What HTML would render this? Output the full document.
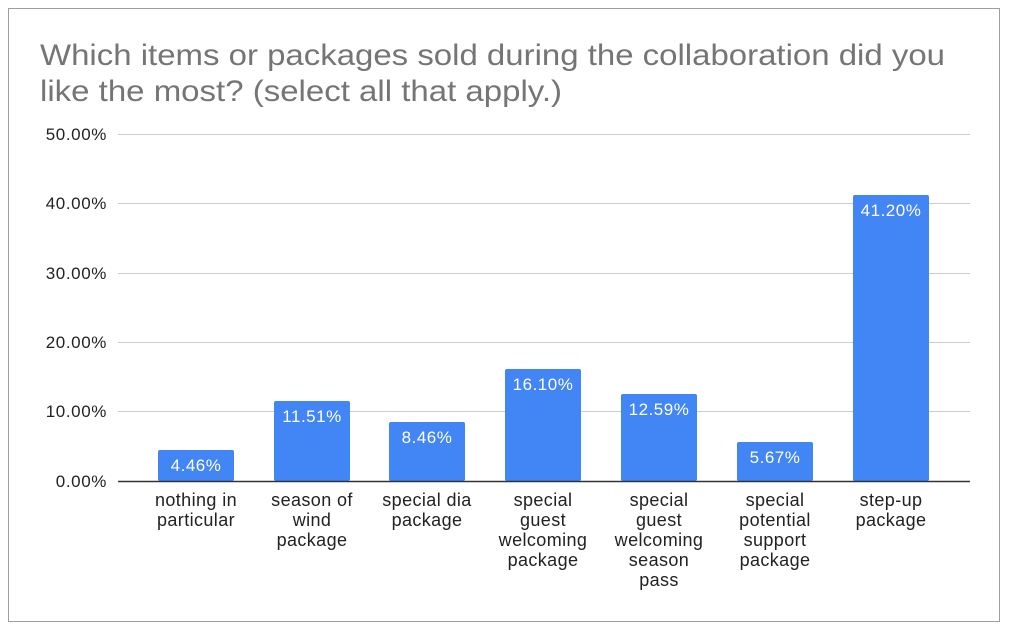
<!DOCTYPE html>
<html><head><style>
body{margin:0;background:#fff;width:1009px;height:631px;overflow:hidden;font-family:"Liberation Sans",Arial,sans-serif}
</style></head><body>
<svg width="1009" height="631" xmlns="http://www.w3.org/2000/svg" font-family="Liberation Sans, Arial, sans-serif">
<rect x="8.5" y="8.5" width="991" height="613" fill="#fff" stroke="#9e9e9e"/>
<text x="40" y="65" font-size="30" fill="#757575" textLength="905" lengthAdjust="spacingAndGlyphs">Which items or packages sold during the collaboration did you</text>
<text x="40" y="101" font-size="30" fill="#757575" textLength="522" lengthAdjust="spacingAndGlyphs">like the most? (select all that apply.)</text>
<g stroke="#cccccc" stroke-width="1">
<line x1="118" x2="970" y1="134.5" y2="134.5"/>
<line x1="118" x2="970" y1="203.5" y2="203.5"/>
<line x1="118" x2="970" y1="273.5" y2="273.5"/>
<line x1="118" x2="970" y1="342.5" y2="342.5"/>
<line x1="118" x2="970" y1="411.5" y2="411.5"/>
</g>
<g font-size="17" fill="#222" text-anchor="end" letter-spacing="0.6">
<text x="107" y="140">50.00%</text>
<text x="107" y="209">40.00%</text>
<text x="107" y="279">30.00%</text>
<text x="107" y="348">20.00%</text>
<text x="107" y="417">10.00%</text>
<text x="107" y="487">0.00%</text>
</g>
<g fill="#4285f4">
<rect x="158" y="450" width="76" height="31" rx="2"/>
<rect x="274" y="401" width="76" height="80" rx="2"/>
<rect x="389" y="422" width="76" height="59" rx="2"/>
<rect x="505" y="369" width="76" height="112" rx="2"/>
<rect x="621" y="394" width="76" height="87" rx="2"/>
<rect x="737" y="442" width="76" height="39" rx="2"/>
<rect x="853" y="195" width="76" height="286" rx="2"/>
</g>
<line x1="118" x2="970" y1="481.5" y2="481.5" stroke="#333" stroke-width="1.5"/>
<g font-size="17" fill="#fff" text-anchor="middle" letter-spacing="0.5">
<text x="196" y="471">4.46%</text>
<text x="312" y="422">11.51%</text>
<text x="427" y="443">8.46%</text>
<text x="543" y="390">16.10%</text>
<text x="659" y="415">12.59%</text>
<text x="775" y="463">5.67%</text>
<text x="891" y="216">41.20%</text>
</g>
<g font-size="18" fill="#222" text-anchor="middle" letter-spacing="0.4">
<text x="196" y="506">nothing in</text><text x="196" y="526">particular</text>
<text x="312" y="506">season of</text><text x="312" y="526">wind</text><text x="312" y="546">package</text>
<text x="427" y="506">special dia</text><text x="427" y="526">package</text>
<text x="543" y="506">special</text><text x="543" y="526">guest</text><text x="543" y="546">welcoming</text><text x="543" y="566">package</text>
<text x="659" y="506">special</text><text x="659" y="526">guest</text><text x="659" y="546">welcoming</text><text x="659" y="566">season</text><text x="659" y="586">pass</text>
<text x="775" y="506">special</text><text x="775" y="526">potential</text><text x="775" y="546">support</text><text x="775" y="566">package</text>
<text x="891" y="506">step-up</text><text x="891" y="526">package</text>
</g>
</svg>
</body></html>
